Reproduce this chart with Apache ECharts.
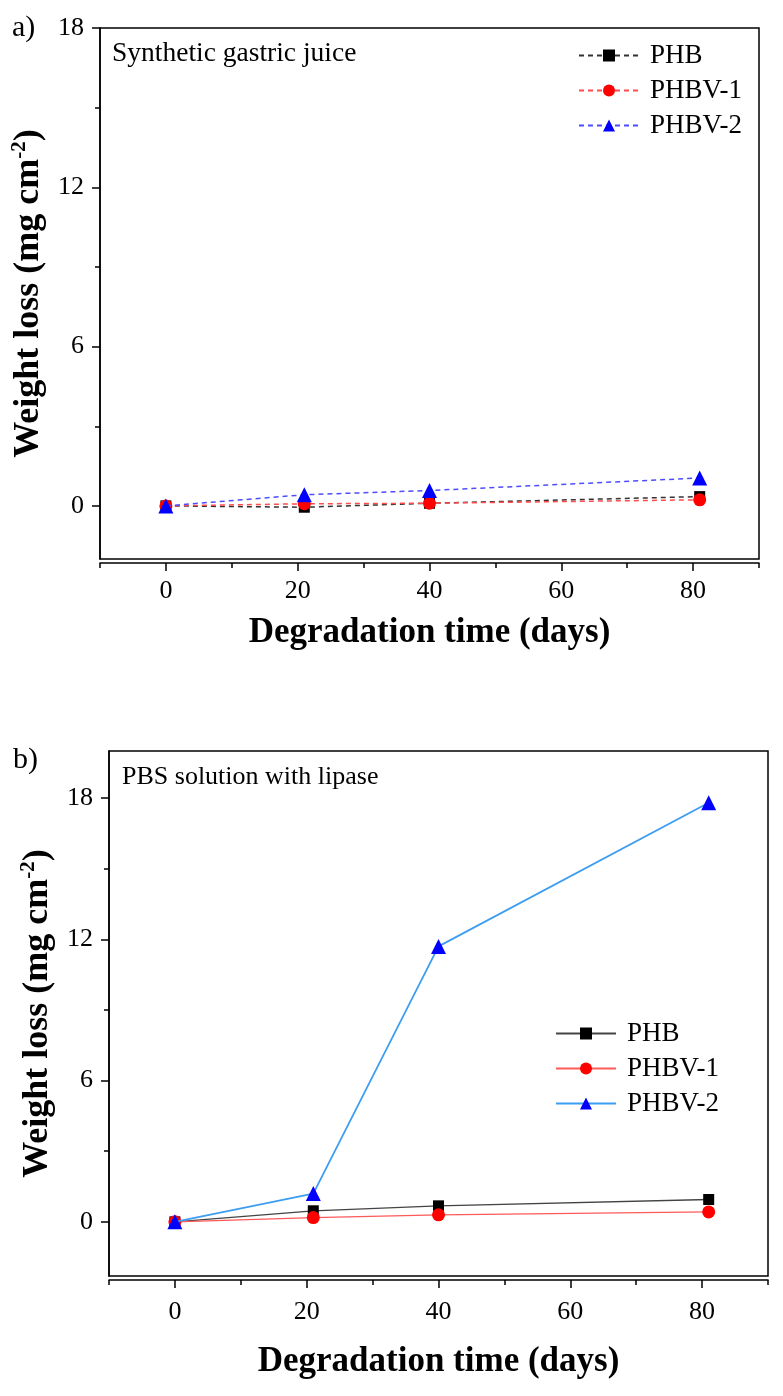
<!DOCTYPE html>
<html><head><meta charset="utf-8">
<script src="https://cdn.jsdelivr.net/npm/echarts@6/dist/echarts.min.js"></script>
<style>
html,body{margin:0;padding:0;background:#fff;}
#a,#b{position:absolute;left:0;width:783px;height:698px;}
#a{top:0}#b{top:698px}
</style></head><body>
<div id="a"></div><div id="b"></div>
<script>
const days = [0, 21, 40, 81];
const xMajorTicks = [0, 20, 40, 60, 80];
const xMinorTicks = [-10, 10, 30, 50, 70, 90];
const yMajorTicks = [0, 6, 12, 18];
const yMinorTicks = [3, 9, 15];
const seriesNames = ['PHB', 'PHBV-1', 'PHBV-2'];
// a) Synthetic gastric juice
const gastricPHB = [0, -0.05, 0.1, 0.35];
const gastricPHBV1 = [0, 0.08, 0.1, 0.23];
const gastricPHBV2 = [0, 0.42, 0.58, 1.05];
// b) PBS solution with lipase
const lipasePHB = [0, 0.47, 0.68, 0.95];
const lipasePHBV1 = [0, 0.18, 0.3, 0.42];
const lipasePHBV2 = [0, 1.2, 11.7, 17.8];

const FONT = 'Liberation Serif';
const pair = (ys) => days.map((d, i) => [d, ys[i]]);

function build(cfg) {
  const styles = [
    {symbol: 'rect', size: 11, color: '#000', line: cfg.lineColors[0]},
    {symbol: 'circle', size: 13, color: '#ff0000', line: cfg.lineColors[1]},
    {symbol: 'triangle', size: 15, color: '#0000ff', line: cfg.lineColors[2]}
  ];
  const series = cfg.data.map((ys, i) => ({
    name: seriesNames[i], type: 'line', xAxisIndex: 0, yAxisIndex: 0,
    data: pair(ys), symbol: styles[i].symbol, symbolSize: styles[i].size,
    itemStyle: {color: styles[i].color},
    lineStyle: {color: styles[i].line, width: cfg.lineWidths[i], type: cfg.dash},
    z: 2 + i
  }));
  const axisLineStyle = {color: '#000', width: 1.5};
  return {
    animation: false,
    grid: {left: cfg.grid.left, top: cfg.grid.top, width: cfg.grid.width, height: cfg.grid.height,
      show: true, borderColor: '#000', borderWidth: 1.5, backgroundColor: 'transparent'},
    xAxis: [
      {type: 'value', min: -10, max: 90, position: 'bottom', offset: 4,
        axisLine: {show: true, onZero: false, lineStyle: axisLineStyle},
        axisTick: {show: true, customValues: xMajorTicks, length: 8, lineStyle: axisLineStyle},
        axisLabel: {customValues: xMajorTicks, fontSize: 26, color: '#000', fontFamily: FONT, margin: cfg.xLabelMargin},
        splitLine: {show: false},
        name: 'Degradation time (days)', nameLocation: 'middle', nameGap: cfg.xNameGap,
        nameTextStyle: {fontSize: 35, fontWeight: 'bold', color: '#000', fontFamily: FONT}},
      {type: 'value', min: -10, max: 90, position: 'bottom', offset: 4,
        axisLine: {show: false, onZero: false},
        axisTick: {show: true, customValues: xMinorTicks, length: 5, lineStyle: axisLineStyle},
        axisLabel: {show: false}, splitLine: {show: false}}
    ],
    yAxis: [
      {type: 'value', min: cfg.yMin, max: cfg.yMax, position: 'left',
        axisLine: {show: true, onZero: false, lineStyle: axisLineStyle},
        axisTick: {show: true, customValues: yMajorTicks, length: 8, lineStyle: axisLineStyle},
        axisLabel: {customValues: yMajorTicks, fontSize: 26, color: '#000', fontFamily: FONT, margin: 16},
        splitLine: {show: false},
        name: '{a|Weight loss (mg cm}{s|-2}{a|)}', nameLocation: 'middle', nameGap: cfg.yNameGap,
        nameTextStyle: {color: '#000', rich: {
          a: {fontSize: 36, fontWeight: 'bold', fontFamily: FONT, color: '#000', lineHeight: 40},
          s: {fontSize: 21, fontWeight: 'bold', fontFamily: FONT, color: '#000', verticalAlign: 'top', lineHeight: 40}
        }}},
      {type: 'value', min: cfg.yMin, max: cfg.yMax, position: 'left',
        axisLine: {show: false, onZero: false},
        axisTick: {show: true, customValues: yMinorTicks, length: 5, lineStyle: axisLineStyle},
        axisLabel: {show: false}, splitLine: {show: false}}
    ],
    legend: {orient: 'vertical', left: cfg.legend.left, top: cfg.legend.top,
      itemWidth: 60, itemHeight: 15, itemGap: 8,
      textStyle: {fontSize: 27, fontFamily: FONT, color: '#000', lineHeight: 26.5, padding: [0, 0, 0, 6]},
      data: seriesNames},
    graphic: [
      {type: 'text', left: cfg.tag.x, top: cfg.tag.y, style: {text: cfg.tag.text, fontSize: 30, fontFamily: FONT, fill: '#000'}},
      {type: 'text', left: cfg.note.x, top: cfg.note.y, style: {text: cfg.note.text, fontSize: cfg.note.size, fontFamily: FONT, fill: '#000'}}
    ],
    series
  };
}

const chartA = echarts.init(document.getElementById('a'));
chartA.setOption(build({
  grid: {left: 100, top: 28, width: 659, height: 531},
  yMin: -2, yMax: 18,
  xLabelMargin: 15, xNameGap: 52, yNameGap: 46,
  data: [gastricPHB, gastricPHBV1, gastricPHBV2],
  lineColors: ['#333333', '#ff4d4d', '#4d4dff'],
  lineWidths: [1.5, 1.5, 1.5],
  dash: [5, 4],
  legend: {left: 573, top: 37},
  tag: {x: 12, y: 13, text: 'a)'},
  note: {x: 112, y: 40, size: 27.5, text: 'Synthetic gastric juice'}
}));

const chartB = echarts.init(document.getElementById('b'));
chartB.setOption(build({
  grid: {left: 109, top: 53, width: 659, height: 525},
  yMin: -2.3, yMax: 20,
  xLabelMargin: 19, xNameGap: 64, yNameGap: 48,
  data: [lipasePHB, lipasePHBV1, lipasePHBV2],
  lineColors: ['#444444', '#ff5a5a', '#3d9df2'],
  lineWidths: [1.3, 1.3, 1.8],
  dash: 'solid',
  legend: {left: 550, top: 317},
  tag: {x: 13, y: 47, text: 'b)'},
  note: {x: 122, y: 66, size: 26, text: 'PBS solution with lipase'}
}));
</script>
</body></html>
